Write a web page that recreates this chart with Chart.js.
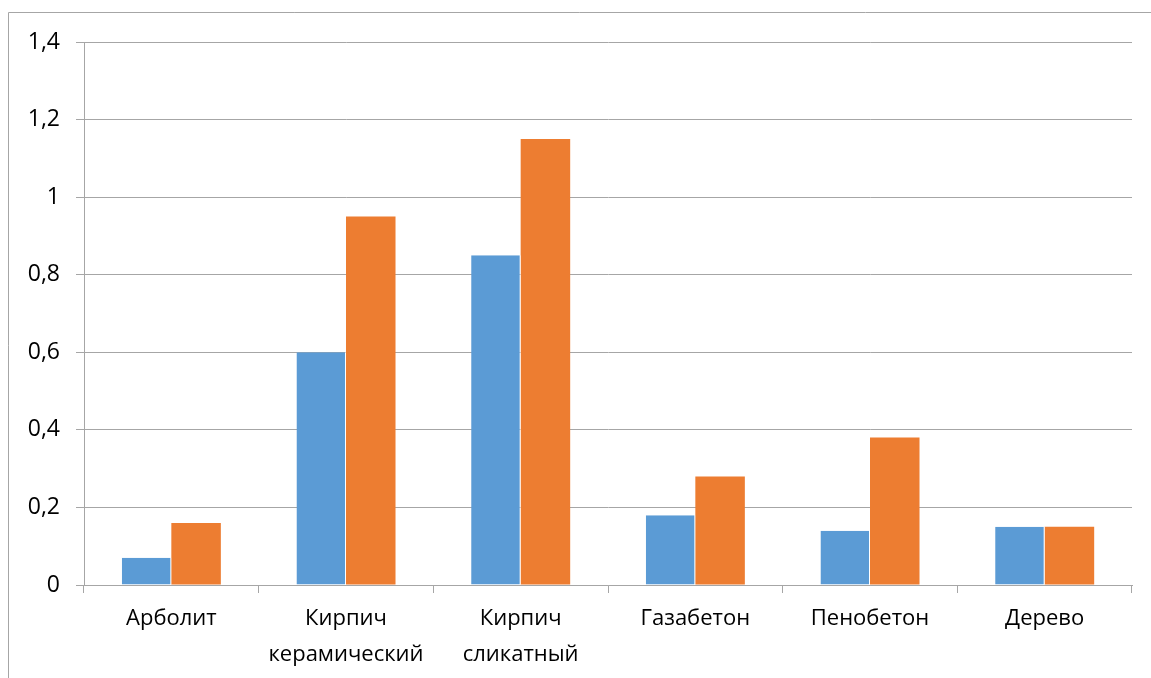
<!DOCTYPE html>
<html>
<head>
<meta charset="utf-8">
<script src="https://cdn.jsdelivr.net/npm/chart.js@4/dist/chart.umd.min.js"></script>
<style>
  html, body { margin: 0; padding: 0; background: #fff; }
  #wrap { position: relative; width: 1151px; height: 678px; }
</style>
</head>
<body>
<div id="wrap"><canvas id="c" width="1151" height="678"></canvas></div>
<script>
// Material categories (multi-line labels as arrays)
const categories = [
  'Арболит',
  ['Кирпич', 'керамический'],
  ['Кирпич', 'сликатный'],
  'Газабетон',
  'Пенобетон',
  'Дерево'
];
const seriesA = [0.07, 0.60, 0.85, 0.18, 0.14, 0.15];
const seriesB = [0.16, 0.95, 1.15, 0.28, 0.38, 0.15];
const yTicks = [0, 0.2, 0.4, 0.6, 0.8, 1, 1.2, 1.4];
const yTickLabels = ['0', '0,2', '0,4', '0,6', '0,8', '1', '1,2', '1,4'];

const gridColor = '#a6a6a6';
const fontFamily = "'Open Sans', 'Noto Sans', sans-serif";

// Thin frame along the left and top edges of the chart object
const framePlugin = {
  id: 'frame',
  beforeDraw(chart) {
    const ctx = chart.ctx;
    ctx.save();
    ctx.strokeStyle = '#a6a6a6';
    ctx.lineWidth = 1;
    ctx.beginPath();
    ctx.moveTo(8.5, 678);
    ctx.lineTo(8.5, 12.5);
    ctx.lineTo(1151, 12.5);
    ctx.stroke();
    ctx.restore();
  }
};

new Chart(document.getElementById('c'), {
  type: 'bar',
  data: {
    labels: categories,
    datasets: [
      { data: seriesA, backgroundColor: '#5B9BD5', borderColor: '#ffffff', borderWidth: { right: 1 }, borderSkipped: false },
      { data: seriesB, backgroundColor: '#ED7D31', borderWidth: 0 }
    ]
  },
  options: {
    responsive: false,
    animation: false,
    devicePixelRatio: 1,
    layout: { padding: { top: 42, right: 19, left: 0, bottom: 0 } },
    datasets: { bar: { categoryPercentage: 0.567, barPercentage: 1 } },
    plugins: { legend: { display: false }, tooltip: { enabled: false } },
    scales: {
      x: {
        offset: true,
        grid: { offset: true, drawOnChartArea: false, drawTicks: true, tickLength: 8, color: gridColor },
        border: { color: gridColor, width: 1 },
        ticks: { color: '#000', font: { family: fontFamily, size: 22, lineHeight: 1.62 }, padding: 8, maxRotation: 0, autoSkip: false },
        afterFit(scale) { scale.height = 93; }
      },
      y: {
        min: 0, max: 1.4,
        grid: { color: gridColor, tickLength: 8, drawTicks: true },
        border: { color: gridColor, width: 1 },
        afterBuildTicks(scale) { scale.ticks = yTicks.map(v => ({ value: v })); },
        ticks: {
          color: '#000', font: { family: fontFamily, size: 23 }, padding: 16,
          callback(value) {
            const i = yTicks.findIndex(t => Math.abs(t - value) < 1e-9);
            return i >= 0 ? yTickLabels[i] : '';
          }
        },
        afterFit(scale) { scale.width = 84; }
      }
    }
  },
  plugins: [framePlugin]
});
</script>
</body>
</html>
